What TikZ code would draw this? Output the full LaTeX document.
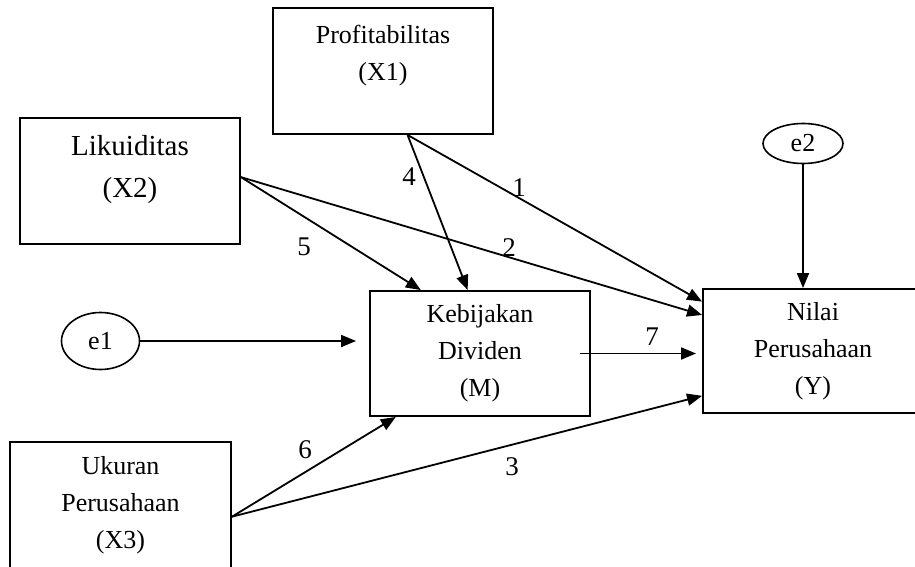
\documentclass[tikz,border=0pt]{standalone}
\usepackage{fontspec}
\setmainfont{Liberation Serif}
\usepackage{tikz}
\usetikzlibrary{arrows.meta, shapes.geometric}
\tikzstyle{var} = [draw, rectangle, line width=1.9pt, minimum width=220pt, minimum height=126pt, inner sep=0pt, align=center]
\tikzstyle{err} = [draw, ellipse, line width=1.6pt, inner sep=0pt]
\tikzstyle{num} = [inner sep=0pt, font=\fontsize{27}{32}\selectfont]
\tikzstyle{arr} = [-{Triangle[length=15pt,width=12pt]}, line width=1.8pt]

\begin{document}
\begin{tikzpicture}[x=1pt, y=-1pt, every node/.style={font=\fontsize{26}{37}\selectfont}]
        \useasboundingbox (0,0) rectangle (915,567);
        \node (x1) [var] at (383,71) {Profitabilitas\\(X1)\\\mbox{}};
        \node (x2) [var, font=\fontsize{29}{42}\selectfont] at (130,181) {Likuiditas\\(X2)\\[-12pt]\mbox{}};
        \node (m) [var, minimum height=125pt] at (480,353.5) {Kebijakan\\Dividen\\(M)};
        \node (y) [var, minimum height=124pt] at (813,351) {Nilai\\Perusahaan\\(Y)};
        \node (x3) [var, minimum width=221pt] at (120.5,505) {Ukuran\\Perusahaan\\(X3)};
        \node (e1) [err, minimum width=78pt, minimum height=57pt] at (100.5,341) {e1};
        \node (e2) [err, minimum width=80pt, minimum height=40pt] at (803,143.5) {e2};
        \node (l1) [num] at (519,188) {1};
        \node (l2) [num] at (509,248) {2};
        \node (l3) [num] at (512,467) {3};
        \node (l4) [num] at (409,177) {4};
        \node (l5) [num] at (304,247) {5};
        \node (l6) [num] at (305,450) {6};
        \node (l7) [num] at (652,337) {7};
        \draw [arr] (x1.-69) -- (y.156);
        \draw [arr] (x1.-69) -- (m.101);
        \draw [arr] (x2.2) -- (y.162);
        \draw [arr] (x2.2) -- (m.133);
        \draw [arr] (x3.-6) -- (y.202);
        \draw [arr] (x3.-6) -- (m.217);
        \draw [arr] ([xshift=-11pt]m.east) -- ([xshift=-6pt]m.east -| y.west);
        \draw [arr] (e1) -- ([xshift=-13pt]e1 -| m.west);
        \draw [arr] (e2) -- (e2 |- y.north);
    \end{tikzpicture}
\end{document}
